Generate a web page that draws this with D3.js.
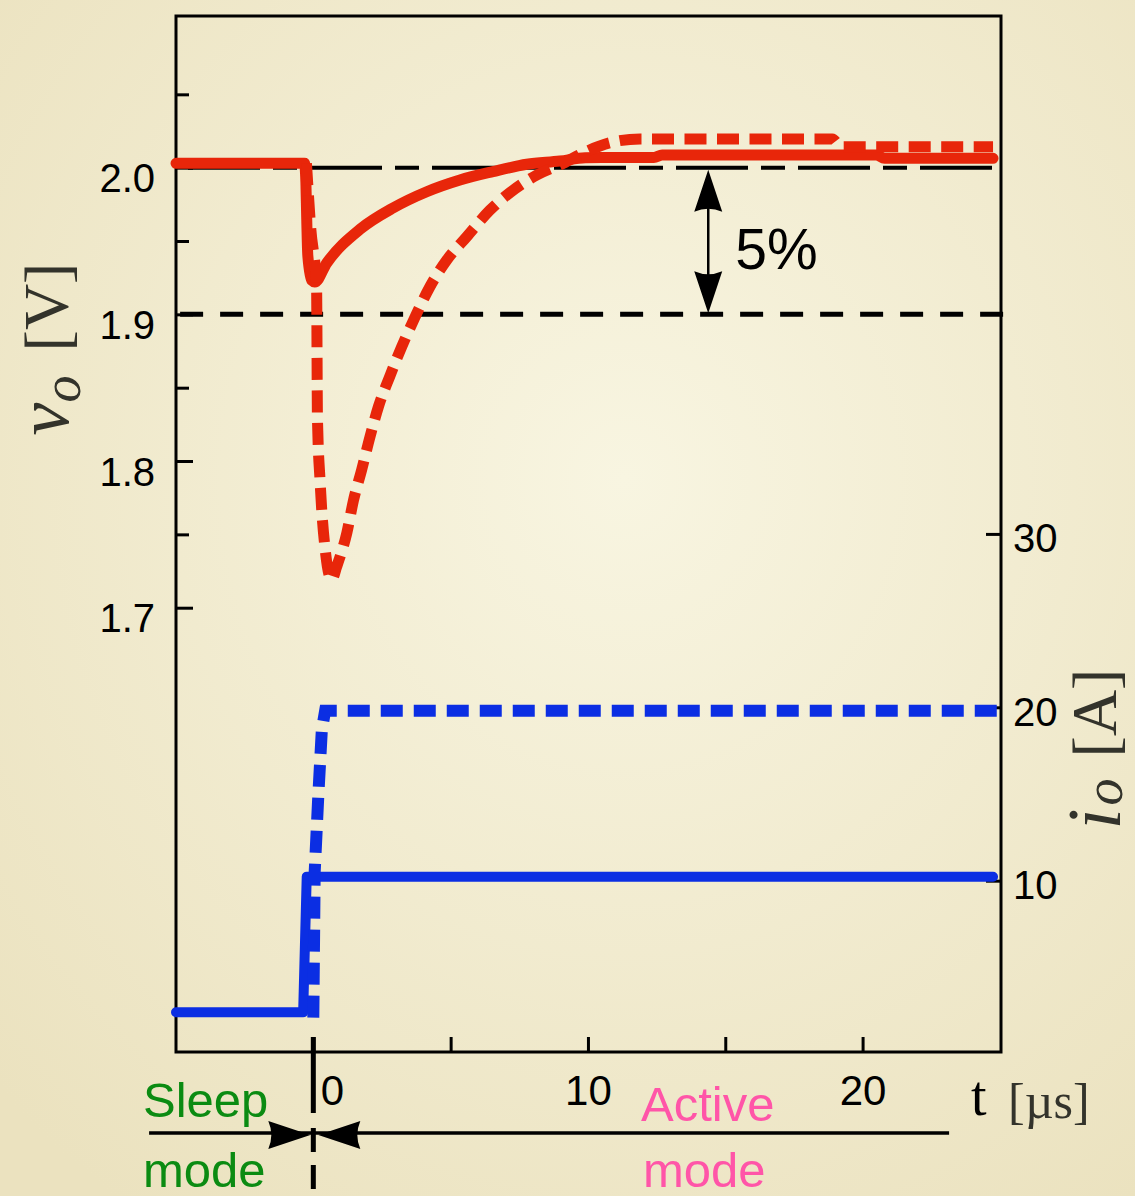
<!DOCTYPE html>
<meta charset="utf-8">
<script src="https://d3js.org/d3.v7.min.js"></script>
<style>
  body { margin: 0; }
  svg { display: block; }
</style>
<body>
<div id="chart"></div>
<script>

// ticks
var timeTicks = [0, 5, 10, 15, 20];
var timeLabels = [0, 10, 20];
var voltMajor = [2.0, 1.9, 1.8, 1.7];
var voltMinor = [2.05, 1.95, 1.85, 1.75];
var currTicks = [10, 20, 30];

// output voltage, small load step (solid red)
var vSmallT = [-5, -0.32, -0.27, -0.24, -0.2, -0.05, 0.05, 0.49, 1.70, 2.90, 4.13, 5.34, 6.54, 7.77, 8.98, 9.9, 10.5, 12.4, 12.7, 20.5, 20.8, 24.75];
var vSmall  = [2.003, 2.003, 1.99, 1.965, 1.94, 1.923, 1.922, 1.935, 1.958, 1.9725, 1.9836, 1.9916, 1.9973, 2.0023, 2.0045, 2.0068, 2.007, 2.007, 2.0087, 2.0087, 2.0064, 2.0064];

// output voltage, large load step (dashed red)
var vLargeT = [-0.25, -0.1, 0.12, 0.15, 0.25, 0.43, 0.67, 0.85, 1.22, 1.46, 1.76, 2.07, 2.37, 2.79, 3.22, 3.70, 4.25, 4.86, 5.59, 6.43, 7.16, 8.14, 9.10, 9.82, 10.8, 11.9, 18.9, 19.2, 24.75];
var vLarge  = [2.003, 1.96, 1.917, 1.83, 1.785, 1.74, 1.719, 1.728, 1.751, 1.773, 1.794, 1.817, 1.837, 1.858, 1.878, 1.898, 1.919, 1.937, 1.953, 1.971, 1.983, 1.995, 2.003, 2.010, 2.017, 2.0196, 2.0196, 2.0143, 2.0143];

// output current, small step (solid blue)
var iSmallT = [-5, -0.37, -0.24, 24.75];
var iSmall  = [2.41, 2.41, 10.23, 10.23];

// output current, large step (dashed blue)
var iLargeT = [0, 0.05, 0.18, 0.31, 0.43, 24.9];
var iLarge  = [2.1, 10.5, 14.85, 18.7, 19.8, 19.8];

var margin = {top: 16, left: 176},
    width = 825,
    height = 1036;

var svg = d3.select("#chart")
  .append("svg")
    .attr("width", 1135)
    .attr("height", 1196);

var grad = svg.append("defs").append("radialGradient")
    .attr("id", "bg").attr("cx", "55%").attr("cy", "40%").attr("r", "75%");
grad.append("stop").attr("offset", "0%").attr("stop-color", "#f8f5e1");
grad.append("stop").attr("offset", "100%").attr("stop-color", "#ebe2bf");
svg.append("rect").attr("width", 1135).attr("height", 1196).attr("fill", "url(#bg)");

var g = svg.append("g")
    .attr("transform", "translate(" + margin.left + "," + margin.top + ")");

var x = d3.scaleLinear().domain([-5, 25.04]).range([0, width]);
var yV = d3.scaleLinear().domain([1.3971, 2.1034]).range([height, 0]);
var yI = d3.scaleLinear().domain([0.12, 59.87]).range([height, 0]);

var sans = "'Liberation Sans', Arial, Helvetica, sans-serif";
var serif = "'Liberation Serif', 'Times New Roman', serif";
var red = "#e8260a", blue = "#0b2ee3";

// reference lines at 2.0 V and 1.9 V
g.append("line")
    .attr("x1", x(-5)).attr("x2", x(24.93))
    .attr("y1", yV(2.0)).attr("y2", yV(2.0))
    .attr("stroke", "#000").attr("stroke-width", 4)
    .attr("stroke-dasharray", "72,13,24,13").attr("stroke-dashoffset", 110);
g.append("line")
    .attr("x1", x(-4.85)).attr("x2", x(25.2))
    .attr("y1", yV(1.9)).attr("y2", yV(1.9))
    .attr("stroke", "#000").attr("stroke-width", 5)
    .attr("stroke-dasharray", "23,17");

// axes
function styleAxis(sel) {
  sel.select(".domain").remove();
  sel.selectAll(".tick line").attr("stroke", "#000").attr("stroke-width", 3);
  sel.selectAll("text").attr("fill", "#000").style("font-family", sans).style("font-size", "40px");
}

g.append("g")
    .call(d3.axisLeft(yV).tickValues(voltMajor).tickSize(-17).tickPadding(21).tickFormat(d3.format(".1f")))
    .call(styleAxis)
    .selectAll("text").attr("dy", "0.6em");

g.append("g")
    .call(d3.axisLeft(yV).tickValues(voltMinor).tickSize(-13).tickFormat(""))
    .call(styleAxis);

g.append("g")
    .attr("transform", "translate(" + width + ",0)")
    .call(d3.axisRight(yI).tickValues(currTicks).tickSize(-15).tickPadding(12))
    .call(styleAxis)
    .selectAll("text").attr("dy", "0.45em");

var xAx = g.append("g")
    .attr("transform", "translate(0," + height + ")")
    .call(d3.axisBottom(x).tickValues(timeTicks).tickSize(-15).tickPadding(23)
      .tickFormat(function(d) { return timeLabels.indexOf(d) >= 0 ? d : ""; }))
    .call(styleAxis);
xAx.selectAll("text").style("font-size", "42px");
xAx.selectAll(".tick").filter(function(d) { return d === 0; }).select("text")
    .attr("text-anchor", "start").attr("dx", 7);

// frame
g.append("rect")
    .attr("width", width).attr("height", height)
    .attr("fill", "none").attr("stroke", "#000").attr("stroke-width", 3);

// current traces
var lineI = d3.line().x(function(d) { return x(d[0]); }).y(function(d) { return yI(d[1]); });
g.append("path")
    .datum(d3.zip(iSmallT, iSmall))
    .attr("d", lineI)
    .attr("fill", "none").attr("stroke", blue).attr("stroke-width", 10)
    .attr("stroke-linecap", "round").attr("stroke-linejoin", "round");
g.append("path")
    .datum(d3.zip(iLargeT, iLarge))
    .attr("d", lineI)
    .attr("fill", "none").attr("stroke", blue).attr("stroke-width", 12)
    .attr("stroke-dasharray", "22,11");

// voltage traces
var lineV = d3.line()
    .x(function(d) { return x(d[0]); })
    .y(function(d) { return yV(d[1]); })
    .curve(d3.curveMonotoneX);
g.append("path")
    .datum(d3.zip(vSmallT, vSmall))
    .attr("d", lineV)
    .attr("fill", "none").attr("stroke", red).attr("stroke-width", 11)
    .attr("stroke-linecap", "round").attr("stroke-linejoin", "round");
g.append("path")
    .datum(d3.zip(vLargeT, vLarge))
    .attr("d", lineV)
    .attr("fill", "none").attr("stroke", red).attr("stroke-width", 11)
    .attr("stroke-dasharray", "22,10.5");

// 5% double arrow
function arrowHead(tx, ty, dir, vertical) {
  // tip at (tx,ty); dir = +1 head points up/left
  var L = 42, W = 14, c = 6;
  if (vertical) {
    return "M" + tx + "," + ty +
      "L" + (tx + W) + "," + (ty + dir * L) +
      "Q" + tx + "," + (ty + dir * (L - c)) + " " + (tx - W) + "," + (ty + dir * L) + "Z";
  }
  return "M" + tx + "," + ty +
    "L" + (tx + dir * L) + "," + (ty + W) +
    "Q" + (tx + dir * (L - c)) + "," + ty + " " + (tx + dir * L) + "," + (ty - W) + "Z";
}
var ax = x(14.38);
g.append("line")
    .attr("x1", ax).attr("x2", ax)
    .attr("y1", yV(2.0) + 20).attr("y2", yV(1.9) - 20)
    .attr("stroke", "#000").attr("stroke-width", 2.5);
g.append("path").attr("d", arrowHead(ax, yV(2.0) + 2, 1, true)).attr("fill", "#000");
g.append("path").attr("d", arrowHead(ax, yV(1.9) - 1, -1, true)).attr("fill", "#000");
g.append("text")
    .attr("x", ax + 27).attr("y", (yV(2.0) + yV(1.9)) / 2 + 28)
    .style("font-family", sans).style("font-size", "57px").attr("fill", "#000")
    .text("5%");

// sleep / active mode marker below the axis
var x0 = x(0);
g.append("line")
    .attr("x1", x0).attr("x2", x0)
    .attr("y1", height - 15).attr("y2", height + 61)
    .attr("stroke", "#000").attr("stroke-width", 5);
g.append("line")
    .attr("x1", x0).attr("x2", x0)
    .attr("y1", height + 76).attr("y2", height + 150)
    .attr("stroke", "#000").attr("stroke-width", 5)
    .attr("stroke-dasharray", "24,13");
g.append("line")
    .attr("x1", x(-5.98)).attr("x2", x(23.15))
    .attr("y1", height + 81).attr("y2", height + 81)
    .attr("stroke", "#000").attr("stroke-width", 3.5);
g.append("path").attr("d", arrowHead(x0 - 3, height + 83, -1, false)).attr("fill", "#000");
g.append("path").attr("d", arrowHead(x0 + 5, height + 83, 1, false)).attr("fill", "#000");

var green = "#0b8b12", pink = "#ff55a8";
[["Sleep", 143, 1117, green], ["mode", 143, 1187, green],
 ["Active", 641, 1121, pink], ["mode", 643, 1187, pink]].forEach(function(d) {
  svg.append("text")
      .attr("x", d[1]).attr("y", d[2])
      .style("font-family", sans).style("font-size", "49px").attr("fill", d[3])
      .text(d[0]);
});

// axis titles
var ink = "#33332b";
function rotText(tx, ty, size, italic, str) {
  svg.append("text")
      .attr("transform", "translate(" + tx + "," + ty + ") rotate(-90)")
      .attr("text-anchor", "middle")
      .style("font-family", serif).style("font-size", size + "px")
      .style("font-style", italic ? "italic" : "normal")
      .attr("fill", ink)
      .text(str);
}
rotText(68, 307, 64, false, "[V]");
rotText(80, 389, 54, true, "o");
rotText(68, 419, 74, true, "v");

rotText(1116, 713, 64, false, "[A]");
rotText(1122, 792, 54, true, "o");
rotText(1120, 819, 76, true, "i");

svg.append("text")
    .attr("x", 971).attr("y", 1115)
    .style("font-family", serif).style("font-size", "56px").attr("fill", "#000")
    .text("t");
svg.append("text")
    .attr("x", 1008).attr("y", 1118)
    .style("font-family", serif).style("font-size", "50px").attr("fill", ink)
    .text("[\u00b5s]");

</script>
</body>
